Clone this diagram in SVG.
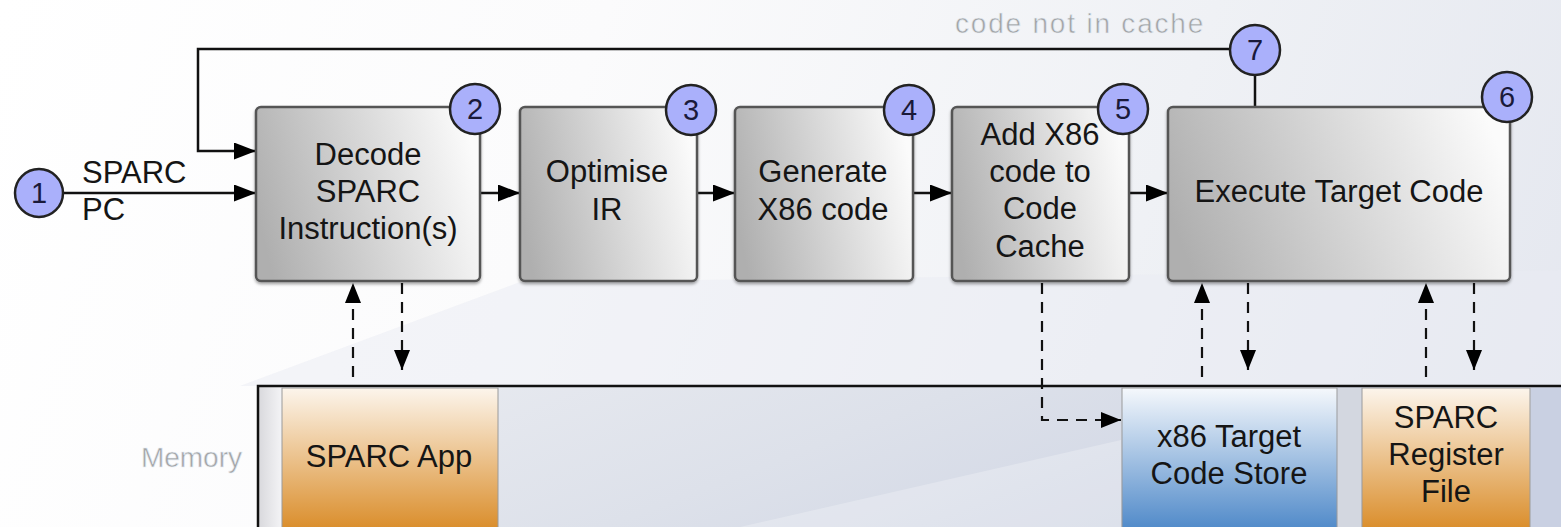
<svg xmlns="http://www.w3.org/2000/svg" width="1561" height="527" viewBox="0 0 1561 527">
<defs>
<linearGradient id="bg" x1="0" y1="0" x2="1561" y2="527" gradientUnits="userSpaceOnUse">
<stop offset="0" stop-color="#ffffff"/>
<stop offset="0.35" stop-color="#fbfbfc"/>
<stop offset="0.7" stop-color="#eff1f5"/>
<stop offset="1" stop-color="#e4e7ef"/>
</linearGradient>
<linearGradient id="mem" x1="0" y1="0" x2="1" y2="0.3">
<stop offset="0" stop-color="#eaecf1"/>
<stop offset="0.5" stop-color="#dde1ea"/>
<stop offset="1" stop-color="#cdd3e3"/>
</linearGradient>
<linearGradient id="box" x1="0" y1="0.6" x2="1" y2="0.4">
<stop offset="0" stop-color="#afafaf"/>
<stop offset="1" stop-color="#fbfbfb"/>
</linearGradient>
<linearGradient id="orange" x1="0" y1="0" x2="0" y2="1">
<stop offset="0" stop-color="#fcf5ec"/>
<stop offset="1" stop-color="#d8871f"/>
</linearGradient>
<linearGradient id="blue" x1="0" y1="0" x2="0" y2="1">
<stop offset="0" stop-color="#f5f8fc"/>
<stop offset="1" stop-color="#4683c6"/>
</linearGradient>
<linearGradient id="strip" x1="0" y1="0" x2="1" y2="0">
<stop offset="0" stop-color="#d8d8dc"/>
<stop offset="1" stop-color="#f4f4f6"/>
</linearGradient>
<filter id="sh" x="-5%" y="-5%" width="110%" height="115%">
<feDropShadow dx="0" dy="2" stdDeviation="1.5" flood-color="#000" flood-opacity="0.35"/>
</filter>
<marker id="ah" markerWidth="22" markerHeight="17" refX="22" refY="8.5" orient="auto" markerUnits="userSpaceOnUse">
<path d="M0,0 L22,8.5 L0,17 z" fill="#000"/>
</marker>
<marker id="ahd" markerWidth="20" markerHeight="16" refX="20" refY="8" orient="auto" markerUnits="userSpaceOnUse">
<path d="M0,0 L20,8 L0,16 z" fill="#000"/>
</marker>
</defs>
<style>
.t{font-family:"Liberation Sans",Arial,sans-serif;font-size:31px;fill:#151515;text-anchor:middle}
.lbl{font-family:"Liberation Sans",Arial,sans-serif;font-size:31px;fill:#151515}
.grey{font-family:"Liberation Sans",Arial,sans-serif;font-size:28px;fill:#a2a4a6;stroke:#e8eef5;stroke-width:0.6}
.num{font-family:"Liberation Sans",Arial,sans-serif;font-size:29px;fill:#1a1a3a;text-anchor:middle}
.box{fill:url(#box);stroke:#555;stroke-width:2.5}
.circ{fill:#aab0fb;stroke:#222;stroke-width:2.5}
.ln{fill:none;stroke:#111;stroke-width:2.5}
.dl{fill:none;stroke:#111;stroke-width:2.2;stroke-dasharray:11 8}
.mb{stroke:#9a9a9a;stroke-width:1}
</style>
<rect x="0" y="0" width="1561" height="527" fill="url(#bg)"/>
<path d="M240,386 L520,282 L1561,270 L1561,386 Z" fill="#e9ecf3" opacity="0.5"/>
<g id="memory">
<rect x="258" y="386" width="1310" height="150" fill="url(#mem)"/>
<path d="M740,527 L1121,440 L1121,527 Z" fill="#ffffff" opacity="0.25"/>
<rect x="258" y="386" width="24" height="150" fill="url(#strip)"/>
<rect x="1338" y="388" width="23" height="150" fill="#d3d7e0"/>
<rect x="1531" y="388" width="40" height="150" fill="#c9d0e2"/>
<path d="M258,536 L258,386 L1561,386" fill="none" stroke="#111" stroke-width="2.5"/>
<text class="grey" x="242" y="467" text-anchor="end" font-size="30">Memory</text>
</g>
<g id="sparc-app">
<rect class="mb" x="282" y="388" width="216" height="150" fill="url(#orange)"/>
<text class="t" x="389" y="467">SPARC App</text>
</g>
<g id="x86-store">
<rect class="mb" x="1122" y="388" width="215" height="150" fill="url(#blue)"/>
<text class="t" x="1229" y="447">x86 Target</text>
<text class="t" x="1229" y="484">Code Store</text>
</g>
<g id="sparc-regs">
<rect class="mb" x="1362" y="388" width="168" height="150" fill="url(#orange)"/>
<text class="t" x="1446" y="428">SPARC</text>
<text class="t" x="1446" y="465">Register</text>
<text class="t" x="1446" y="502">File</text>
</g>
<g id="connectors">
<line class="ln" x1="63" y1="193" x2="256" y2="193" marker-end="url(#ah)"/>
<text class="lbl" x="82" y="183">SPARC</text>
<text class="lbl" x="82" y="220">PC</text>
<polyline class="ln" points="1230,49 198,49 198,151 256,151" marker-end="url(#ah)"/>
<text class="grey" x="955" y="33" letter-spacing="1.8">code not in cache</text>
<line class="ln" x1="1255" y1="75" x2="1255" y2="107"/>
<line class="ln" x1="480" y1="193" x2="520" y2="193" marker-end="url(#ah)"/>
<line class="ln" x1="697" y1="193" x2="735" y2="193" marker-end="url(#ah)"/>
<line class="ln" x1="913" y1="193" x2="952" y2="193" marker-end="url(#ah)"/>
<line class="ln" x1="1129" y1="193" x2="1168" y2="193" marker-end="url(#ah)"/>
<line class="dl" x1="353" y1="377" x2="353" y2="283" marker-end="url(#ahd)"/>
<line class="dl" x1="402" y1="283" x2="402" y2="370" marker-end="url(#ahd)"/>
<polyline class="dl" points="1042,283 1042,420 1121,420" marker-end="url(#ahd)"/>
<line class="dl" x1="1202" y1="377" x2="1202" y2="283" marker-end="url(#ahd)"/>
<line class="dl" x1="1248" y1="283" x2="1248" y2="370" marker-end="url(#ahd)"/>
<line class="dl" x1="1426" y1="377" x2="1426" y2="283" marker-end="url(#ahd)"/>
<line class="dl" x1="1474" y1="283" x2="1474" y2="370" marker-end="url(#ahd)"/>
</g>
<g id="step1">
<circle class="circ" cx="39" cy="193" r="24"/>
<text class="num" x="39" y="203">1</text>
</g>
<g id="step2">
<rect class="box" x="256" y="107" width="224" height="174" rx="5" filter="url(#sh)"/>
<text class="t" x="368" y="165">Decode</text>
<text class="t" x="368" y="202">SPARC</text>
<text class="t" x="368" y="239">Instruction(s)</text>
<circle class="circ" cx="475" cy="109" r="25"/>
<text class="num" x="475" y="119">2</text>
</g>
<g id="step3">
<rect class="box" x="520" y="107" width="177" height="174" rx="5" filter="url(#sh)"/>
<text class="t" x="607" y="182">Optimise</text>
<text class="t" x="607" y="220">IR</text>
<circle class="circ" cx="691" cy="110" r="25"/>
<text class="num" x="691" y="120">3</text>
</g>
<g id="step4">
<rect class="box" x="735" y="107" width="178" height="174" rx="5" filter="url(#sh)"/>
<text class="t" x="823" y="182">Generate</text>
<text class="t" x="823" y="220">X86 code</text>
<circle class="circ" cx="909" cy="110" r="25"/>
<text class="num" x="909" y="120">4</text>
</g>
<g id="step5">
<rect class="box" x="952" y="107" width="177" height="174" rx="5" filter="url(#sh)"/>
<text class="t" x="1040" y="145">Add X86</text>
<text class="t" x="1040" y="182">code to</text>
<text class="t" x="1040" y="219">Code</text>
<text class="t" x="1040" y="257">Cache</text>
<circle class="circ" cx="1123" cy="109" r="25"/>
<text class="num" x="1123" y="119">5</text>
</g>
<g id="step6">
<rect class="box" x="1168" y="107" width="342" height="174" rx="5" filter="url(#sh)"/>
<text class="t" x="1339" y="202">Execute Target Code</text>
<circle class="circ" cx="1507" cy="97" r="25"/>
<text class="num" x="1507" y="107">6</text>
</g>
<g id="step7">
<circle class="circ" cx="1255" cy="50" r="25"/>
<text class="num" x="1255" y="60">7</text>
</g>
</svg>
